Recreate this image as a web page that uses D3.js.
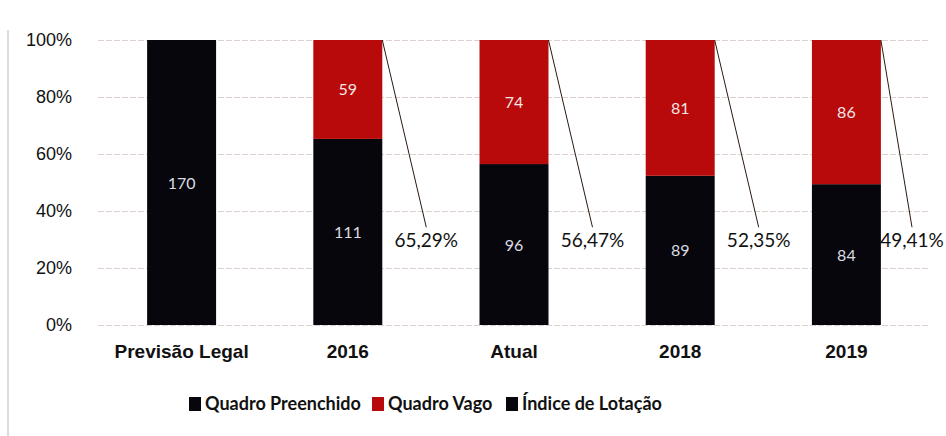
<!DOCTYPE html>
<html lang="pt">
<head>
    <meta charset="UTF-8">
    <style>
        body { margin: 0; background: #fff; }
        svg { display: block; font-family: Lato, "Open Sans", sans-serif; }
        .grid line { stroke: #dcd0d0; stroke-dasharray: 6 2; }
        .grid .domain { display: none; }
        .yaxis text { font-size: 18px; fill: #111; }
        .xaxis text { font-size: 19px; font-weight: bold; fill: #111; }
        .val { font-size: 16px; text-anchor: middle; }
        .idx { font-size: 19px; fill: #111; }
        .legend text { font-size: 18px; font-weight: bold; fill: #111; }
    </style>
    <script src="https://d3js.org/d3.v7.min.js"></script>
    <title>Quadro de Lotação</title>
</head>
<body>
<svg width="946" height="436"></svg>
<script>
    // data
    var categories = ["Previsão Legal", "2016", "Atual", "2018", "2019"];
    var preenchido = [170, 111, 96, 89, 84];
    var vago = [0, 59, 74, 81, 86];
    var indice = [null, "65,29%", "56,47%", "52,35%", "49,41%"];
    var yTicks = [0, 0.2, 0.4, 0.6, 0.8, 1];
    var seriesNames = ["Quadro Preenchido", "Quadro Vago", "Índice de Lotação"];
    var seriesColors = ["#06060c", "#b80a0a", "#06060c"];
    var labelColors = ["#dcdce0", "#f4e6e6"];

    var svg = d3.select("svg");
    var margin = {top: 40, right: 17, bottom: 111, left: 98},
        width = 946 - margin.left - margin.right,
        height = 436 - margin.top - margin.bottom;

    var g = svg.append("g")
        .attr("transform", "translate(" + margin.left + "," + margin.top + ")");

    var rows = categories.map(function(c, i) {
        return {cat: c, preenchido: preenchido[i], vago: vago[i], indice: indice[i]};
    });

    var x = d3.scaleBand().domain(categories).range([0.5, width + 0.5]).paddingInner(0.585).paddingOuter(0.2925);
    var y = d3.scaleLinear().domain([0, 1]).range([height, 0]);

    // scan border on the left
    svg.append("line")
        .attr("x1", 8).attr("x2", 8).attr("y1", 30).attr("y2", 436)
        .attr("stroke", "#8a8aa0").attr("stroke-width", 1).attr("opacity", 0.6);

    // gridlines
    g.append("g").attr("class", "grid")
        .call(d3.axisLeft(y).tickValues(yTicks).tickSize(-width).tickFormat(""));

    // y axis labels
    g.append("g").attr("class", "yaxis")
        .attr("transform", "translate(-23,0)")
        .call(d3.axisLeft(y).tickValues(yTicks).tickSize(0).tickFormat(d3.format(".0%")))
        .call(function(a) { a.select(".domain").remove(); });

    // stacked bars (normalised to 100%)
    var stack = d3.stack().keys(["preenchido", "vago"]).offset(d3.stackOffsetExpand);
    var layers = stack(rows);

    var layer = g.selectAll(".layer").data(layers).enter().append("g")
        .attr("class", "layer")
        .attr("fill", function(d, i) { return seriesColors[i]; });

    layer.selectAll("rect").data(function(d) { return d; }).enter().append("rect")
        .attr("x", function(d) { return x(d.data.cat); })
        .attr("width", x.bandwidth())
        .attr("y", function(d) { return y(d[1]); })
        .attr("height", function(d) { return y(d[0]) - y(d[1]); });

    layer.selectAll("text").data(function(d, i) {
            return d.map(function(s) { return {s: s, i: i, key: i === 0 ? "preenchido" : "vago"}; });
        }).enter()
        .filter(function(d) { return d.s.data[d.key] > 0; })
        .append("text")
        .attr("class", "val")
        .attr("fill", function(d) { return labelColors[d.i]; })
        .attr("x", function(d) { return x(d.s.data.cat) + x.bandwidth() / 2; })
        .attr("y", function(d) { return (y(d.s[0]) + y(d.s[1])) / 2 + 6; })
        .text(function(d) { return d.s.data[d.key]; });

    // índice de lotação labels with leader lines
    function idxX(d) {
        return Math.min(x(d.cat) + x.bandwidth() + 44, 946 - margin.left - 34);
    }
    var idx = g.selectAll(".idxg").data(rows.filter(function(d) { return d.indice; }))
        .enter().append("g").attr("class", "idxg");

    idx.append("line")
        .attr("x1", function(d) { return x(d.cat) + x.bandwidth(); })
        .attr("y1", y(1))
        .attr("x2", idxX)
        .attr("y2", y(0.35) + 2)
        .attr("stroke", "#2a1a10").attr("stroke-width", 1);

    idx.append("text")
        .attr("class", "idx")
        .attr("text-anchor", "middle")
        .attr("x", idxX)
        .attr("y", y(0.3) + 7)
        .text(function(d) { return d.indice; });

    // x axis labels
    g.append("g").attr("class", "xaxis")
        .attr("transform", "translate(0," + height + ")")
        .call(d3.axisBottom(x).tickSize(0).tickPadding(20))
        .call(function(a) { a.select(".domain").remove(); });

    // legend
    var legendX = [189, 372, 506];
    var legend = svg.append("g").attr("class", "legend");
    var item = legend.selectAll("g").data(seriesNames).enter().append("g")
        .attr("transform", function(d, i) { return "translate(" + legendX[i] + ",410)"; });
    item.append("rect").attr("x", 0).attr("y", -13).attr("width", 12).attr("height", 14)
        .attr("fill", function(d, i) { return seriesColors[i]; });
    item.append("text").attr("x", 16).attr("y", 0).text(function(d) { return d; });
</script>
</body>
</html>
